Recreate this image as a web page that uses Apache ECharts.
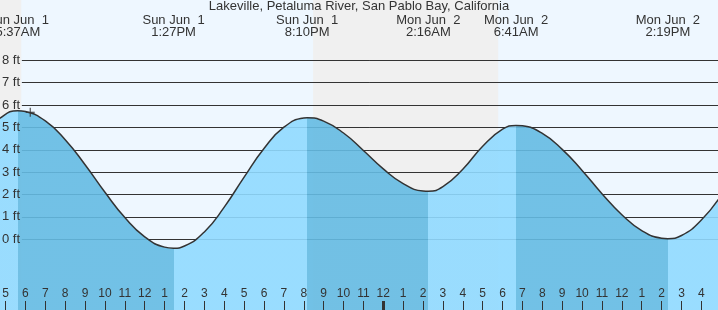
<!DOCTYPE html>
<html>
<head>
<meta charset="utf-8">
<script src="https://cdn.jsdelivr.net/npm/echarts@6/dist/echarts.min.js"></script>
<style>
  html, body { margin: 0; padding: 0; }
  #tideChart { width: 718px; height: 310px; }
</style>
</head>
<body>
<div id="tideChart"></div>
<script>
// hours counted from midnight Sun Jun 1
const tideHours = [4.0, 4.72, 5.62, 6, 7, 8, 9, 10, 11, 12, 13, 13.45, 14, 15, 16, 17, 18, 19, 20, 20.17,
  21, 22, 23, 24, 25, 26, 26.27, 27, 28, 29, 30, 30.68, 31, 32, 33, 34, 35, 36, 37, 38, 38.32, 39, 40, 41];
const tideFeet = [4.75, 5.41, 5.75, 5.71, 5.29, 4.45, 3.33, 2.10, 0.97, 0.11, -0.35, -0.40, -0.30, 0.33, 1.44, 2.78, 4.06, 5.01, 5.42, 5.43,
  5.28, 4.75, 3.97, 3.15, 2.49, 2.16, 2.15, 2.35, 3.13, 4.16, 4.92, 5.09, 5.07, 4.73, 4.02, 3.08, 2.04, 1.10, 0.39, 0.05, 0.03, 0.17, 0.86, 1.97];

// high / low events
const eventHours = [5.617, 13.45, 20.167, 26.267, 30.683, 38.317];
const eventLabels = ['Sun Jun  1\n5:37AM', 'Sun Jun  1\n1:27PM', 'Sun Jun  1\n8:10PM',
  'Mon Jun  2\n2:16AM', 'Mon Jun  2\n6:41AM', 'Mon Jun  2\n2:19PM'];

// bottom hour ticks
const hourTicks = [5, 6, 7, 8, 9, 10, 11, 12, 13, 14, 15, 16, 17, 18, 19, 20, 21, 22, 23, 24,
  25, 26, 27, 28, 29, 30, 31, 32, 33, 34, 35, 36, 37, 38, 39, 40];
const hourLabels = ['5', '6', '7', '8', '9', '10', '11', '12', '1', '2', '3', '4', '5', '6', '7', '8', '9', '10', '11', '12',
  '1', '2', '3', '4', '5', '6', '7', '8', '9', '10', '11', '12', '1', '2', '3', '4'];

const feetTicks = [0, 1, 2, 3, 4, 5, 6, 7, 8];
const nightStart = [4.72, 20.47];
const nightEnd = [5.79, 29.78];
const nowMark = [6.24, 5.68];

const xMin = 4.72, xMax = 40.837;
const gridStart = 5.82;
const txt = '#333';
const font = 'Liberation Sans, Arial, sans-serif';
const lightBlue = '#90daff', darkBlue = '#64bbe3';

let chart = echarts.init(document.getElementById('tideChart'));

let pieces = [];
let bounds = [xMin - 5].concat(eventHours).concat([xMax + 5]);
for (let i = 0; i < bounds.length - 1; i++) {
  pieces.push({gte: bounds[i], lt: bounds[i + 1], color: i % 2 == 0 ? lightBlue : darkBlue});
}

let gridLines = feetTicks.map(v => [{coord: [gridStart, v]}, {coord: [xMax, v]}]);
let nights = nightStart.map((s, i) => [{xAxis: s}, {xAxis: nightEnd[i]}]);

chart.setOption({
  animation: false,
  backgroundColor: '#eef7ff',
  title: {
    text: 'Lakeville, Petaluma River, San Pablo Bay, California',
    left: 'center', top: 0, padding: 0,
    textStyle: {fontSize: 13, fontWeight: 'normal', color: txt, fontFamily: font}
  },
  grid: {left: 0, right: 0, top: 0, bottom: 0, outerBoundsMode: 'none', containLabel: false},
  visualMap: {show: false, type: 'piecewise', dimension: 0, seriesIndex: 0, pieces: pieces},
  xAxis: [
    {
      type: 'value', min: xMin, max: xMax, position: 'bottom', z: 10,
      axisLine: {show: false, onZero: false},
      splitLine: {show: false},
      axisTick: {inside: true, length: 9, customValues: hourTicks, lineStyle: {color: txt, width: 1}},
      axisLabel: {
        inside: true, margin: 10, customValues: hourTicks,
        color: txt, fontSize: 12, fontFamily: font,
        formatter: v => hourLabels[hourTicks.indexOf(v)]
      }
    },
    {
      type: 'value', min: xMin, max: xMax, position: 'bottom', z: 11,
      axisLine: {show: false, onZero: false},
      splitLine: {show: false},
      axisTick: {inside: true, length: 9, customValues: [24], lineStyle: {color: txt, width: 3}},
      axisLabel: {show: false}
    },
    {
      type: 'value', min: xMin, max: xMax, position: 'top', z: 10,
      axisLine: {show: false, onZero: false},
      splitLine: {show: false},
      axisTick: {show: false},
      axisLabel: {
        inside: true, margin: 14, customValues: eventHours,
        color: txt, fontSize: 13, lineHeight: 12, fontFamily: font, align: 'center',
        formatter: v => eventLabels[eventHours.indexOf(v)]
      }
    }
  ],
  yAxis: {
    type: 'value', min: -3.16, max: 10.695, z: 10,
    axisLine: {show: false, onZero: false},
    axisTick: {show: false},
    splitLine: {show: false},
    axisLabel: {
      inside: true, margin: 2, customValues: feetTicks,
      color: txt, fontSize: 13, fontFamily: font,
      formatter: '{value} ft'
    }
  },
  series: [
    {
      type: 'line',
      data: tideHours.map((h, i) => [h, tideFeet[i]]),
      smooth: true,
      symbol: 'none',
      z: 2,
      lineStyle: {color: '#333', width: 1.5},
      areaStyle: {opacity: 0.9, origin: 'start'},
      markArea: {
        silent: true, z: 1,
        itemStyle: {color: '#f0f0f0', opacity: 1},
        label: {show: false},
        data: nights
      },
      markLine: {
        silent: true, z: 1.5,
        symbol: 'none',
        label: {show: false},
        lineStyle: {color: '#333', width: 1, type: 'solid'},
        data: gridLines
      },
      markPoint: {
        silent: true, z: 6,
        symbol: 'path://M4,0H5V4H9V5H5V9H4V5H0V4H4Z',
        symbolSize: 9,
        itemStyle: {color: '#333'},
        label: {show: false},
        data: [{coord: nowMark}]
      }
    }
  ]
});
</script>
</body>
</html>
